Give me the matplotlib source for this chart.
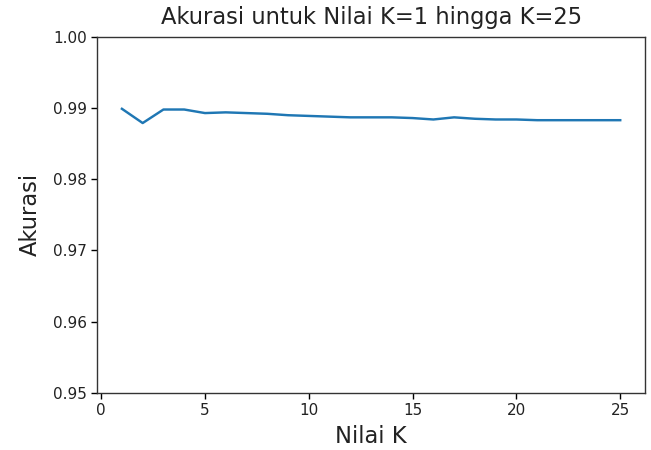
import matplotlib
matplotlib.use('Agg')
import matplotlib.pyplot as plt

# akurasi KNN untuk tiap nilai K
nilai_k = list(range(1, 26))
akurasi = [0.9899, 0.9879, 0.9898, 0.9898, 0.9893, 0.9894, 0.9893, 0.9892,
           0.9890, 0.9889, 0.9888, 0.9887, 0.9887, 0.9887, 0.9886, 0.9884,
           0.9887, 0.9885, 0.9884, 0.9884, 0.9883, 0.9883, 0.9883, 0.9883,
           0.9883]

fig = plt.figure(figsize=(6.51, 4.5), dpi=100)
ax = fig.add_axes([0.149, 0.127, 0.842, 0.791])
ax.plot(nilai_k, akurasi, color='#1f77b4', linewidth=1.75)
ax.set_ylim(0.95, 1.00)
ax.set_yticks([0.95, 0.96, 0.97, 0.98, 0.99, 1.00])
ax.tick_params(labelsize=11, length=4, width=1, labelcolor='#222222')
for s in ax.spines.values():
    s.set_linewidth(1)
    s.set_color('#333333')
ax.set_title('Akurasi untuk Nilai K=1 hingga K=25', fontsize=16.3, pad=9,
             color='#222222')
ax.set_xlabel('Nilai K', fontsize=16.3, labelpad=5, color='#222222')
ax.set_ylabel('Akurasi', fontsize=16.3, labelpad=8, color='#222222')
fig.savefig('out.png')
